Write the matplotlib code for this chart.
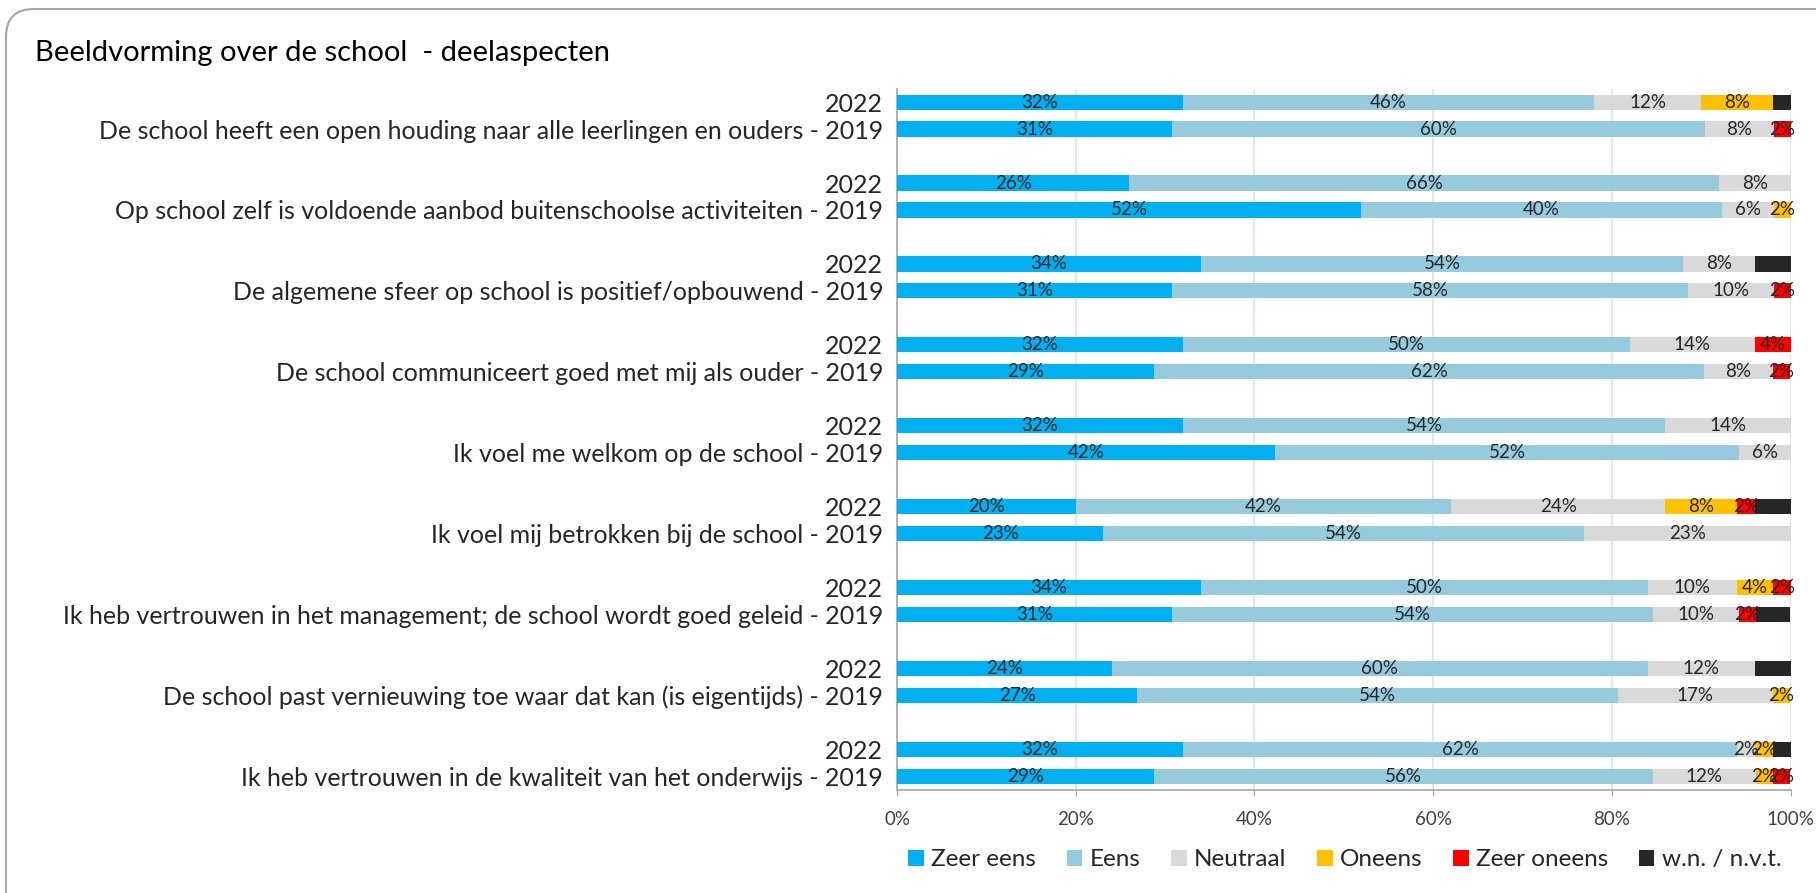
import numpy as np
import matplotlib.pyplot as plt
from matplotlib.patches import FancyBboxPatch, Patch

plt.rcParams['font.family'] = ['Lato', 'DejaVu Sans']

categories = [
    'De school heeft een open houding naar alle leerlingen en ouders',
    'Op school zelf is voldoende aanbod buitenschoolse activiteiten',
    'De algemene sfeer op school is positief/opbouwend',
    'De school communiceert goed met mij als ouder',
    'Ik voel me welkom op de school',
    'Ik voel mij betrokken bij de school',
    'Ik heb vertrouwen in het management; de school wordt goed geleid',
    'De school past vernieuwing toe waar dat kan (is eigentijds)',
    'Ik heb vertrouwen in de kwaliteit van het onderwijs',
]
series = ['Zeer eens', 'Eens', 'Neutraal', 'Oneens', 'Zeer oneens', 'w.n. / n.v.t.']
colors = ['#00B0F0', '#95CBDC', '#D9D9D9', '#FFC000', '#FF0000', '#262626']

# percentages per series, 2022
zeer_eens_2022 = [32, 26, 34, 32, 32, 20, 34, 24, 32]
eens_2022 = [46, 66, 54, 50, 54, 42, 50, 60, 62]
neutraal_2022 = [12, 8, 8, 14, 14, 24, 10, 12, 2]
oneens_2022 = [8, 0, 0, 0, 0, 8, 4, 0, 2]
zeer_oneens_2022 = [0, 0, 0, 4, 0, 2, 2, 0, 0]
wn_2022 = [2, 0, 4, 0, 0, 4, 0, 4, 2]

# percentages per series, 2019
zeer_eens_2019 = [30.8, 51.9, 30.8, 28.8, 42.3, 23.1, 30.8, 26.9, 28.8]
eens_2019 = [59.6, 40.4, 57.7, 61.5, 51.9, 53.8, 53.8, 53.8, 55.8]
neutraal_2019 = [7.7, 5.8, 9.6, 7.7, 5.8, 23.1, 9.6, 17.3, 11.5]
oneens_2019 = [0, 1.9, 0, 0, 0, 0, 0, 1.9, 1.9]
zeer_oneens_2019 = [1.9, 0, 1.9, 1.9, 0, 0, 1.9, 0, 1.9]
wn_2019 = [0, 0, 0, 0, 0, 0, 3.8, 0, 0]

data_2022 = [zeer_eens_2022, eens_2022, neutraal_2022, oneens_2022, zeer_oneens_2022, wn_2022]
data_2019 = [zeer_eens_2019, eens_2019, neutraal_2019, oneens_2019, zeer_oneens_2019, wn_2019]

fig = plt.figure(figsize=(18.16, 8.93), dpi=100)
ax = fig.add_axes([0.494, 0.1153, 0.492, 0.7855])

n = len(categories)
y22 = np.arange(n) * 3
y19 = y22 + 1

for ys, data in [(y22, data_2022), (y19, data_2019)]:
    left = np.zeros(n)
    for k in range(len(series)):
        vals = np.array(data[k], dtype=float)
        ax.barh(ys, vals, left=left, height=0.56, color=colors[k], zorder=3)
        if k < 5:
            for i in range(n):
                if vals[i] > 0:
                    ax.text(left[i] + vals[i] / 2, ys[i], '{}%'.format(int(round(vals[i]))),
                            ha='center', va='center', fontsize=13.5, color='#262626', zorder=4)
        left += vals

ax.set_xlim(0, 100)
ax.set_ylim(25.5, -0.5)
ax.set_xticks([0, 20, 40, 60, 80, 100])
ax.set_xticklabels(['0%', '20%', '40%', '60%', '80%', '100%'], fontsize=13.5, color='#404040')
ax.xaxis.grid(True, color='#D9E1F2', linewidth=1.2, zorder=0)
ax.tick_params(axis='x', length=4, color='#A6A6A6', pad=11)

yt = []
ylab = []
for i in range(n):
    yt += [y22[i], y19[i]]
    ylab += ['2022', categories[i] + ' - 2019']
ax.set_yticks(yt)
ax.set_yticklabels(ylab, fontsize=18, color='#262626')
ax.tick_params(axis='y', length=0, pad=10)

for s in ['top', 'right']:
    ax.spines[s].set_visible(False)
ax.spines['left'].set_color('#A6A6A6')
ax.spines['bottom'].set_color('#A6A6A6')
ax.spines['left'].set_linewidth(1.2)
ax.spines['bottom'].set_linewidth(1.2)

fig.text(0.0193, 0.941, 'Beeldvorming over de school  - deelaspecten', fontsize=21,
         color='#000000', ha='left', va='center')

handles = [Patch(facecolor=c, edgecolor='none') for c in colors]
fig.legend(handles, series, loc='center', bbox_to_anchor=(0.7405, 0.037), ncol=6,
           frameon=False, fontsize=17.5, handlelength=0.65, handleheight=0.65,
           handletextpad=0.3, columnspacing=1.25, labelcolor='#262626')

border = FancyBboxPatch((6, -60), 2000, 944, boxstyle='round,pad=0,rounding_size=28',
                        transform=None, facecolor='none', edgecolor='#A6A6A6', linewidth=1.5)
fig.patches.append(border)

plt.savefig('out.png', dpi=100)
